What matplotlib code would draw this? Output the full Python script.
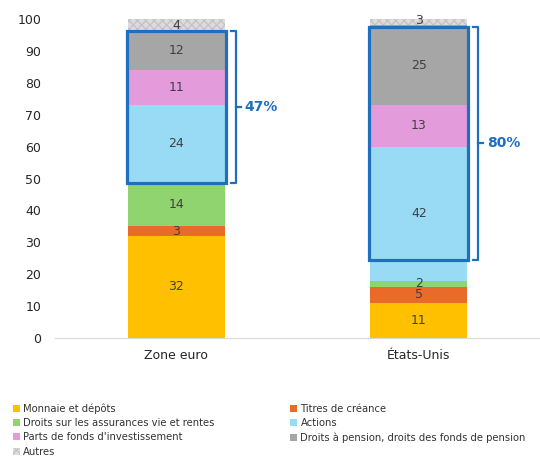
import matplotlib.pyplot as plt
import numpy as np
from matplotlib.patches import Rectangle, Patch

# données (en % des actifs financiers des ménages)
regions = ['Zone euro', 'États-Unis']
series = ['Monnaie et dépôts', 'Titres de créance',
          'Droits sur les assurances vie et rentes', 'Actions',
          "Parts de fonds d'investissement",
          'Droits à pension, droits des fonds de pension', 'Autres']
monnaie = [32, 11]
titres = [3, 5]
assurances = [14, 2]
actions = [24, 42]
fonds = [11, 13]
pension = [12, 25]
autres = [4, 3]
# encadré : part des actifs "risqués" et bornes du cadre
part_risque = ['47%', '80%']
cadre_bas = [48.6, 24.6]
cadre_haut = [96.2, 97.6]

colors = ['#ffc000', '#ea6a2a', '#8fd46e', '#99dbf5', '#e39bdc', '#a6a6a6', '#dcdcdc']
bleu = '#1f6fc0'

fig = plt.figure(figsize=(5.4, 4.57), dpi=100)
ax = fig.add_axes([0.102, 0.2604, 0.898, 0.698])

x = np.arange(len(regions))
w = 0.4
bottom = np.zeros(len(regions))
data = [monnaie, titres, assurances, actions, fonds, pension, autres]
for i, vals in enumerate(data):
    vals = np.array(vals, dtype=float)
    if i == 6:
        bars = ax.bar(x, vals, w, bottom=bottom, color=colors[i], edgecolor='#c4c4c4',
                      hatch='xxxx', linewidth=0)
    else:
        bars = ax.bar(x, vals, w, bottom=bottom, color=colors[i], linewidth=0)
    for xi, b, v in zip(x, bottom, vals):
        ax.text(xi, b + v / 2, f'{v:.0f}', ha='center', va='center',
                fontsize=9, color='#404040')
    bottom += vals

# cadres bleus et accolades
for xi, lo, hi, lab in zip(x, cadre_bas, cadre_haut, part_risque):
    ax.add_patch(Rectangle((xi - w / 2 - 0.004, lo), w + 0.008, hi - lo, fill=False,
                           edgecolor=bleu, linewidth=2.3, zorder=5))
    x0 = xi + w / 2 + 0.025
    x1 = xi + w / 2 + 0.045
    ax.plot([x0, x1, x1, x0], [hi, hi, lo, lo], color=bleu, lw=1.6,
            solid_joinstyle='round', clip_on=False)
    mid = (hi + lo) / 2
    ax.plot([x1, x1 + 0.02], [mid, mid], color=bleu, lw=1.6, clip_on=False)
    ax.text(x1 + 0.035, mid, lab, color=bleu, fontsize=10, fontweight='bold',
            ha='left', va='center')

ax.set_xlim(-0.5, 1.5)
ax.set_ylim(0, 100)
ax.set_yticks(np.arange(0, 101, 10))
ax.set_xticks(x)
ax.set_xticklabels(regions, fontsize=9, color='#262626')
ax.tick_params(axis='y', length=0, labelsize=9, labelcolor='#262626', pad=10)
ax.tick_params(axis='x', length=0, pad=8)
for s in ['top', 'right', 'left']:
    ax.spines[s].set_visible(False)
ax.spines['bottom'].set_color('#d9d9d9')

# légende sur deux colonnes
handles = [Patch(facecolor=c, label=s) for c, s in zip(colors, series)]
handles[6] = Patch(facecolor=colors[6], edgecolor='#c4c4c4', hatch='xxxx',
                   linewidth=0, label=series[6])
order = [0, 2, 4, 6, 1, 3, 5]
fig.legend([handles[i] for i in order], [series[i] for i in order],
           loc='upper left', bbox_to_anchor=(0.015, 0.128), ncol=2, frameon=False,
           fontsize=7.2, handlelength=0.7, handleheight=0.7, handletextpad=0.3,
           labelspacing=0.42, columnspacing=7.6, labelcolor='#333333',
           borderpad=0)

fig.savefig('out.png', dpi=100)
